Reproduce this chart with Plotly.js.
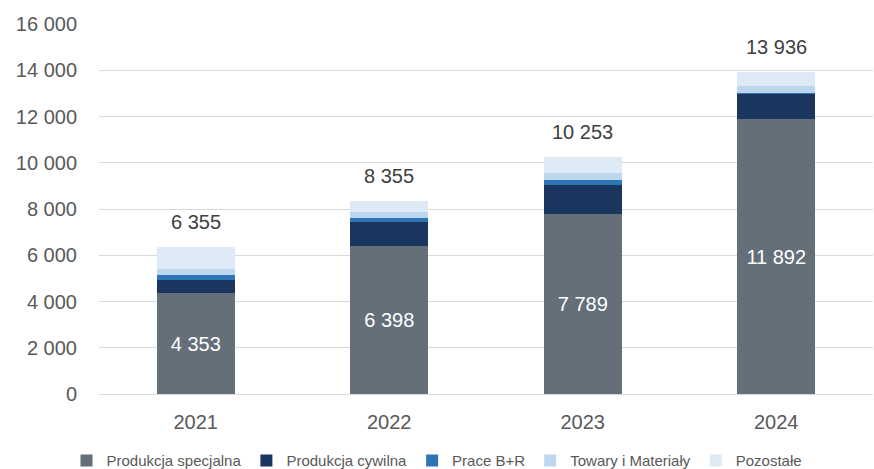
<!DOCTYPE html>
<html>
<head>
<meta charset="utf-8">
<script src="https://cdn.plot.ly/plotly-3.0.1.min.js"></script>
<style>html,body{margin:0;padding:0;background:#fff;}#chart{width:874px;height:469px;}</style>
</head>
<body>
<div id="chart"></div>
<script>
const years = ['2021', '2022', '2023', '2024'];
const seriesNames = ['Produkcja specjalna', 'Produkcja cywilna', 'Prace B+R', 'Towary i Materiały', 'Pozostałe'];
const specjalna = [4353, 6398, 7789, 11892];
const cywilna = [570, 1042, 1270, 1090];
const praceBR = [215, 150, 190, 40];
const towary = [280, 270, 290, 300];
const pozostale = [937, 495, 714, 614];
const totals = [6355, 8355, 10253, 13936];
const yTicks = [0, 2000, 4000, 6000, 8000, 10000, 12000, 14000, 16000];

const colors = ['#646F79', '#1B365E', '#2E75B6', '#BDD7EE', '#DEEBF7'];
const allSeries = [specjalna, cywilna, praceBR, towary, pozostale];

const fmt = v => String(v).replace(/\B(?=(\d{3})+(?!\d))/g, ' ');

const traces = allSeries.map((vals, i) => {
  const t = {
    type: 'bar',
    name: seriesNames[i],
    x: years,
    y: vals,
    marker: {color: colors[i], line: {width: 0}}
  };
  if (i === 0) {
    t.text = vals.map(fmt);
    t.textposition = 'inside';
    t.insidetextanchor = 'middle';
    t.textfont = {color: '#ffffff', size: 20, family: 'Liberation Sans, Arial, sans-serif'};
  }
  return t;
});

// annotations on a category axis: use the category index as position
const annotations = years.map((yr, i) => ({
  x: i, y: totals[i], xref: 'x', yref: 'y',
  text: fmt(totals[i]), showarrow: false,
  yshift: 25,
  font: {size: 20, color: '#404040', family: 'Liberation Sans, Arial, sans-serif'}
}));

const layout = {
  width: 874, height: 469,
  margin: {l: 99, r: 1, t: 24, b: 75},
  barmode: 'stack',
  bargap: 0.597,
  paper_bgcolor: '#ffffff',
  plot_bgcolor: '#ffffff',
  font: {family: 'Liberation Sans, Arial, sans-serif', color: '#595959', size: 20},
  xaxis: {
    type: 'category',
    categoryorder: 'array',
    categoryarray: years,
    range: [-0.5, years.length - 0.5],
    showgrid: false,
    showline: false,
    ticks: 'outside',
    ticklen: 10,
    tickcolor: 'rgba(0,0,0,0)',
    tickfont: {size: 20, color: '#595959'}
  },
  yaxis: {
    range: [0, 16000],
    tickmode: 'array',
    tickvals: yTicks,
    ticktext: yTicks.map(fmt),
    showgrid: true,
    gridcolor: '#D9D9D9',
    gridwidth: 1,
    zeroline: true,
    zerolinecolor: '#D9D9D9',
    zerolinewidth: 1,
    showline: false,
    ticks: 'outside',
    ticklen: 17,
    tickcolor: 'rgba(0,0,0,0)',
    tickfont: {size: 20, color: '#595959'}
  },
  showlegend: true,
  legend: {
    orientation: 'h',
    xref: 'container', yref: 'container',
    x: 0.5, xanchor: 'center',
    y: 0.053, yanchor: 'top',
    font: {family: 'Liberation Sans, Arial, sans-serif', size: 15, color: '#595959'},
    traceorder: 'normal',
    itemwidth: 30
  },
  annotations: annotations
};

Plotly.newPlot('chart', traces, layout, {displayModeBar: false, staticPlot: true});
</script>
</body>
</html>
